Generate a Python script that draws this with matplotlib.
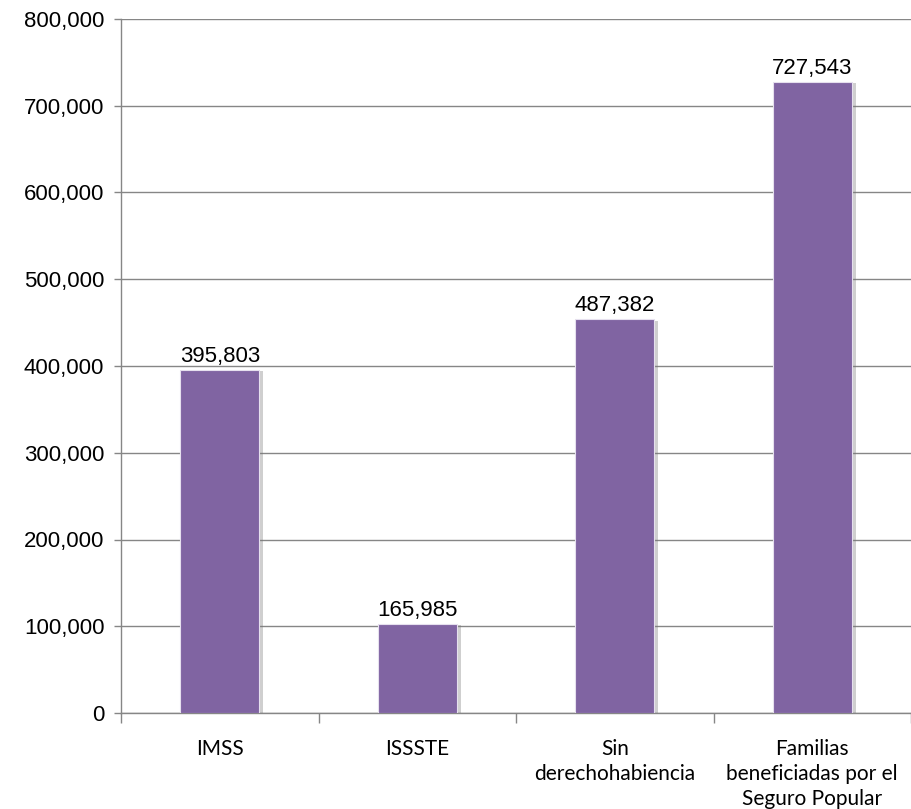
import matplotlib.pyplot as plt
import matplotlib.patheffects as pe
from matplotlib.ticker import FuncFormatter

categorias = ['IMSS', 'ISSSTE', 'Sin\nderechohabiencia', 'Familias\nbeneficiadas por el\nSeguro Popular']
# alturas de las barras tal como se ven en la grafica
alturas = [395803, 103000, 454000, 727543]
# etiquetas de datos que muestra la grafica
etiquetas = ['395,803', '165,985', '487,382', '727,543']

color_barra = '#8064A2'
gris = '#868686'

fig = plt.figure(figsize=(9.11, 8.09), dpi=100)
ax = fig.add_axes([121/911, 1 - 713/809, 1 - 121/911, (713 - 19)/809])

x = list(range(len(categorias)))
barras = ax.bar(x, alturas, width=0.4, color=color_barra, edgecolor='#e6e0ee', linewidth=0.8, zorder=3)
for b in barras:
    b.set_path_effects([pe.SimplePatchShadow(offset=(3, -1), shadow_rgbFace='#777777', alpha=0.35), pe.Normal()])

for xi, h, t in zip(x, alturas, etiquetas):
    ax.annotate(t, (xi, h), xytext=(0, 2), textcoords='offset points', ha='center', va='bottom',
                fontsize=16, family='Liberation Sans', zorder=4)

ax.set_xlim(-0.5, (911 - 121)/199 - 0.5)
ax.set_ylim(0, 800000)
ax.set_yticks(range(0, 800001, 100000))
ax.yaxis.set_major_formatter(FuncFormatter(lambda v, p: f'{int(v):,}'))
ax.grid(axis='y', color=gris, linewidth=1, zorder=0)

ax.set_xticks([i + 0.5 for i in range(-1, 4)])
ax.set_xticklabels([])
ax.set_xticks(x, minor=True)
ax.set_xticklabels(categorias, minor=True, fontsize=15, family='Lato', linespacing=1.3)
ax.tick_params(axis='x', which='minor', length=0, pad=19)
ax.tick_params(axis='x', which='major', length=7, color=gris, width=1)
ax.tick_params(axis='y', length=5, color=gris, width=1, labelsize=16, pad=7)
for lbl in ax.get_yticklabels():
    lbl.set_family('Liberation Sans')

for s in ['top', 'right']:
    ax.spines[s].set_visible(False)
for s in ['left', 'bottom']:
    ax.spines[s].set_color(gris)
    ax.spines[s].set_linewidth(1)

fig.savefig('out.png', dpi=100)
